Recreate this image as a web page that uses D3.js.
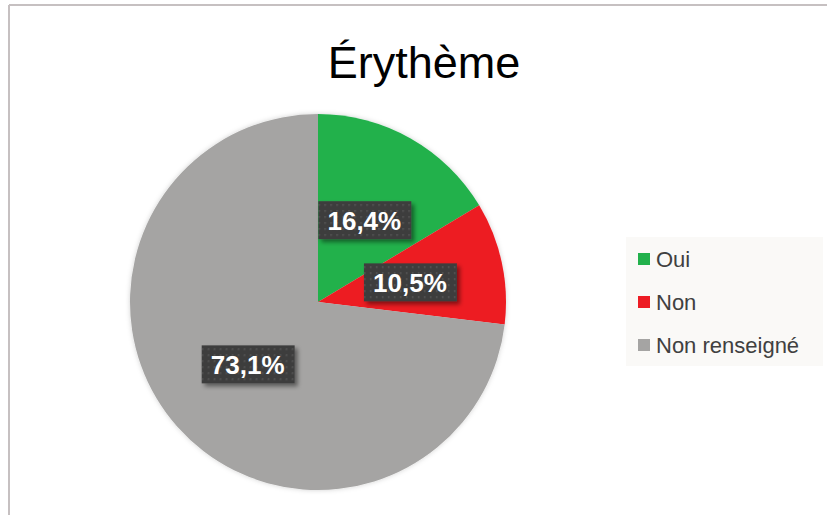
<!DOCTYPE html>
<html>
<head>
<meta charset="utf-8">
<script src="https://cdn.jsdelivr.net/npm/d3@7"></script>
<style>
  html, body { margin: 0; padding: 0; background: #ffffff; }
  svg { display: block; }
</style>
</head>
<body>
<svg id="chart" width="827" height="515"></svg>
<script>
// Répartition de l'érythème
const title = "Érythème";
const categories = ["Oui", "Non", "Non renseigné"];
const values = [16.4, 10.5, 73.1];
const colors = ["#22b14c", "#ed1c24", "#a5a4a3"];

const svg = d3.select("#chart");
const W = 827, H = 515;

const defs = svg.append("defs");

// Soft halo around the pie
const halo = defs.append("filter").attr("id", "halo")
  .attr("x", "-10%").attr("y", "-10%").attr("width", "120%").attr("height", "120%");
halo.append("feDropShadow").attr("dx", 0).attr("dy", 0)
  .attr("stdDeviation", 2.5).attr("flood-color", "#000").attr("flood-opacity", 0.18);

// Drop shadow for the value labels
const shadow = defs.append("filter").attr("id", "lblShadow")
  .attr("x", "-20%").attr("y", "-30%").attr("width", "150%").attr("height", "180%");
shadow.append("feDropShadow").attr("dx", 3).attr("dy", 3)
  .attr("stdDeviation", 2).attr("flood-color", "#000").attr("flood-opacity", 0.45);

// Dotted texture for the label boxes
const pat = defs.append("pattern").attr("id", "dots")
  .attr("width", 6).attr("height", 6).attr("patternUnits", "userSpaceOnUse");
pat.append("rect").attr("width", 6).attr("height", 6).attr("fill", "#3e3e3e");
pat.append("rect").attr("x", 2).attr("y", 2).attr("width", 1.5).attr("height", 1.5).attr("fill", "#5a5a5a");

// Chart frame (top and left edges)
svg.append("line").attr("x1", 9).attr("y1", 5).attr("x2", W).attr("y2", 5)
  .attr("stroke", "#c6c0c1").attr("stroke-width", 2);
svg.append("line").attr("x1", 9).attr("y1", 5).attr("x2", 9).attr("y2", H)
  .attr("stroke", "#c6c0c1").attr("stroke-width", 2);

// Title
svg.append("text")
  .attr("x", 424).attr("y", 78)
  .attr("text-anchor", "middle")
  .attr("font-family", "Liberation Sans, Arial, sans-serif")
  .attr("font-size", 45)
  .attr("fill", "#000")
  .text(title);

// Pie
const cx = 318, cy = 302, r = 188;
const data = categories.map((c, i) => ({ cat: c, value: values[i], color: colors[i] }));
const pie = d3.pie().value(d => d.value).sort(null);
const arcs = pie(data);
const arc = d3.arc().innerRadius(0).outerRadius(r);

const g = svg.append("g").attr("transform", `translate(${cx},${cy})`);
g.append("g").attr("filter", "url(#halo)")
  .selectAll("path").data(arcs).join("path")
  .attr("d", arc)
  .attr("fill", d => d.data.color);

// Value labels, placed at half the radius along each slice's bisector
const fmt = v => v.toFixed(1).replace(".", ",") + "%";
const labelArc = d3.arc().innerRadius(r * 0.5).outerRadius(r * 0.5);
const labels = g.append("g").selectAll("g").data(arcs).join("g")
  .attr("transform", d => `translate(${labelArc.centroid(d)})`);
labels.append("rect")
  .attr("x", -46).attr("y", -19)
  .attr("width", 93).attr("height", 38)
  .attr("fill", "url(#dots)")
  .attr("filter", "url(#lblShadow)");
labels.append("text")
  .attr("text-anchor", "middle")
  .attr("dy", "0.36em")
  .attr("font-family", "Liberation Sans, Arial, sans-serif")
  .attr("font-weight", "bold")
  .attr("font-size", 26)
  .attr("fill", "#ffffff")
  .text(d => fmt(d.data.value));

// Legend
const lgX = 626, lgY = 237;
svg.append("rect").attr("x", lgX).attr("y", lgY).attr("width", 197).attr("height", 129)
  .attr("fill", "#faf9f7");
const legendY = [259, 302, 345];
const items = svg.append("g").selectAll("g").data(data).join("g")
  .attr("transform", (d, i) => `translate(638,${legendY[i]})`);
items.append("rect").attr("x", 0).attr("y", -6).attr("width", 12).attr("height", 12)
  .attr("fill", d => d.color);
items.append("text").attr("x", 18).attr("dy", "0.36em")
  .attr("font-family", "Liberation Sans, Arial, sans-serif")
  .attr("font-size", 22)
  .attr("fill", "#404040")
  .text(d => d.cat);
</script>
</body>
</html>
